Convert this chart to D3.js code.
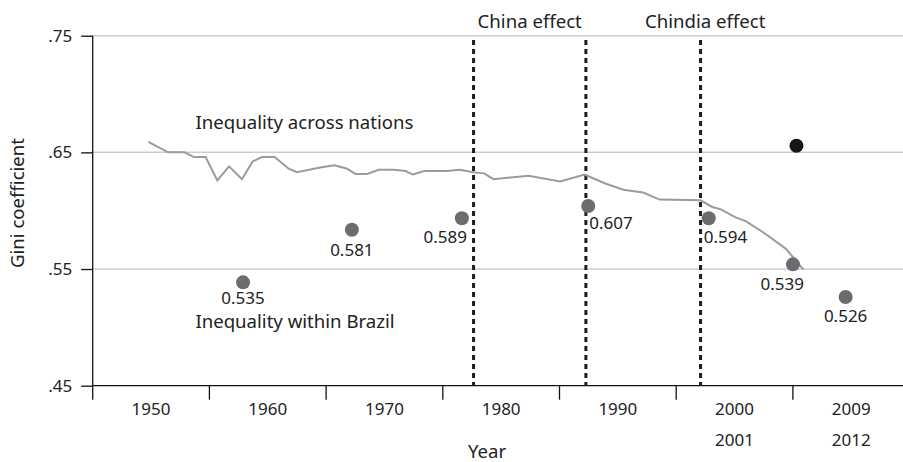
<!DOCTYPE html>
<html><head><meta charset="utf-8">
<script src="https://cdn.jsdelivr.net/npm/d3@7"></script>
<style>
html,body{margin:0;padding:0;background:#fff;}
svg{display:block;font-family:"Noto Sans","Open Sans",sans-serif;}
</style></head>
<body>
<svg id="chart" width="903" height="462"></svg>
<script>
// ---- data ----
const acrossYears = [1950,1951.7,1953.1,1953.9,1954.9,1955.9,1956.9,1958.0,1958.9,1959.7,1960.8,1962.0,1962.7,1964.7,1965.9,1967.0,1967.7,1968.7,1969.7,1971.0,1972.0,1972.6,1973.6,1975.5,1976.6,1977.8,1978.7,1979.5,1982.5,1985.2,1987.3,1989.0,1990.6,1992.3,1993.7,1997.2,1998.2,1998.9,2000.2,2001.1,2002.7,2004.5,2006.0];
const acrossGini = [.659,.650,.650,.646,.646,.626,.638,.627,.642,.646,.646,.636,.633,.637,.639,.636,.6315,.6315,.635,.635,.634,.631,.634,.634,.635,.633,.632,.627,.630,.625,.631,.6235,.618,.6156,.6095,.6089,.6032,.6013,.5943,.5909,.5805,.5673,.5495];
const brazilYears = [1958.1,1967.4,1976.8,1987.6,1997.9,2005.1,2009.6];
const brazilGini = [.5386,.5837,.5935,.604,.5935,.554,.526];
const brazilLabels = ["0.535","0.581","0.589","0.607","0.594","0.539","0.526"];
const extraYear = [2005.4];
const extraGini = [.6557];
const effectYears = [1977.8,1987.4,1997.2];
const effectLabels = ["China effect","Chindia effect"];
const effectLabelYears = [1982.6,1997.6];
const xTickTop = ["1950","1960","1970","1980","1990","2000","2009"];
const xTickBottom = ["","","","","","2001","2012"];
const yTicks = [.45,.55,.65,.75];

// ---- layout ----
const svg = d3.select("#chart");
const mLeft = 92.7, mBottom = 385.7, mTop = 35.7, mRight = 903;
const x = d3.scaleLinear().domain([1950,2006]).range([148.3,803.5]);
const y = d3.scaleLinear().domain([.45,.75]).range([mBottom, mTop]);
const band = d3.scaleBand().domain(xTickTop).range([mLeft, mLeft + 7*116.7]);
const fs = 17;      // numbers
const fw = 18.6;    // words

// gridlines
svg.append("g").selectAll("line").data(yTicks.filter(d=>d>.45)).join("line")
  .attr("x1", mLeft).attr("x2", mRight)
  .attr("y1", d=>y(d)).attr("y2", d=>y(d))
  .attr("stroke", "#cdcdcd").attr("stroke-width", 1.5);

// y axis
const yAxis = svg.append("g").attr("transform", `translate(${mLeft},0)`)
  .call(d3.axisLeft(y).tickValues(yTicks).tickSize(11.5).tickPadding(9)
    .tickFormat(d => d3.format(".2f")(d).replace(/^0/,"")));
yAxis.select(".domain").remove();
yAxis.selectAll(".tick line").attr("stroke","#111").attr("stroke-width",1.3);
yAxis.selectAll("text").attr("font-size", fs).attr("fill","#222").attr("font-family","Noto Sans");
svg.append("line").attr("x1",mLeft).attr("x2",mLeft).attr("y1",mTop).attr("y2",mBottom+14)
  .attr("stroke","#111").attr("stroke-width",1.3);

// x axis line and band ticks
svg.append("line").attr("x1",mLeft).attr("x2",mRight).attr("y1",mBottom).attr("y2",mBottom)
  .attr("stroke","#111").attr("stroke-width",1.3);
svg.append("g").selectAll("line").data(xTickTop.slice(1)).join("line")
  .attr("x1", d=>band(d)).attr("x2", d=>band(d))
  .attr("y1", mBottom).attr("y2", mBottom+14)
  .attr("stroke","#111").attr("stroke-width",1.3);
svg.append("g").selectAll("text").data(xTickTop).join("text")
  .attr("x", d=>band(d)+band.bandwidth()/2).attr("y", mBottom+29)
  .attr("text-anchor","middle").attr("font-size",fs).attr("fill","#222").text(d=>d);
svg.append("g").selectAll("text").data(xTickTop).join("text")
  .attr("x", d=>band(d)+band.bandwidth()/2).attr("y", mBottom+60)
  .attr("text-anchor","middle").attr("font-size",fs).attr("fill","#222")
  .text((d,i)=>xTickBottom[i]);

// axis titles
svg.append("text").attr("x",487).attr("y",458).attr("text-anchor","middle")
  .attr("font-size",fw).attr("fill","#222").text("Year");
svg.append("text").attr("transform","translate(24,203) rotate(-90)").attr("text-anchor","middle")
  .attr("font-size",fw).attr("fill","#222").text("Gini coefficient");

// effect lines
svg.append("g").selectAll("line").data(effectYears).join("line")
  .attr("x1", d=>x(d)).attr("x2", d=>x(d))
  .attr("y1", 40).attr("y2", mBottom)
  .attr("stroke","#1e1e1e").attr("stroke-width",3).attr("stroke-dasharray","5,4");
svg.append("g").selectAll("text").data(effectLabels).join("text")
  .attr("x",(d,i)=>x(effectLabelYears[i])).attr("y",28)
  .attr("text-anchor","middle").attr("font-size",fw).attr("fill","#222").text(d=>d);

// across nations line
const pts = acrossYears.map((d,i)=>[d, acrossGini[i]]);
svg.append("path").datum(pts)
  .attr("d", d3.line().x(d=>x(d[0])).y(d=>y(d[1])))
  .attr("fill","none").attr("stroke","#9b9b9b").attr("stroke-width",2);
svg.append("text").attr("x",304.5).attr("y",129).attr("text-anchor","middle")
  .attr("font-size",fw).attr("fill","#222").text("Inequality across nations");

// Brazil dots
const brazil = brazilYears.map((d,i)=>({yr:d, v:brazilGini[i], lab:brazilLabels[i]}));
svg.append("g").selectAll("circle").data(brazil).join("circle")
  .attr("cx", d=>x(d.yr)).attr("cy", d=>y(d.v)).attr("r",7).attr("fill","#6b6b70");
const anchors = ["middle","middle","end","start","start","end","middle"];
const dx = [0,0,5,1,-5,11,0];
const dy = [22,26,25,23,25,26,25];
svg.append("g").selectAll("text").data(brazil).join("text")
  .attr("x",(d,i)=>x(d.yr)+dx[i]).attr("y",(d,i)=>y(d.v)+dy[i])
  .attr("text-anchor",(d,i)=>anchors[i]).attr("font-size",fs).attr("fill","#222").text(d=>d.lab);
svg.append("text").attr("x",295).attr("y",328).attr("text-anchor","middle")
  .attr("font-size",fw).attr("fill","#222").text("Inequality within Brazil");

// black dot
svg.append("g").selectAll("circle").data(extraYear).join("circle")
  .attr("cx", d=>x(d)).attr("cy",(d,i)=>y(extraGini[i])).attr("r",7).attr("fill","#161616");
</script>
</body></html>
